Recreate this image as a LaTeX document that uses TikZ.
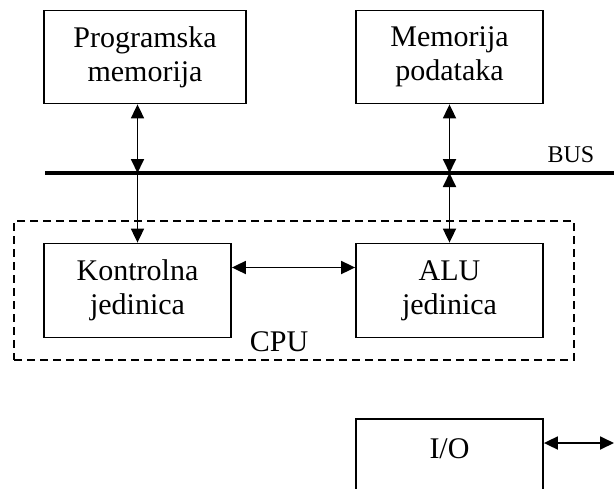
\documentclass[tikz,border=0pt]{standalone}
\usepackage{fontspec}
\setmainfont{Liberation Serif}
\usetikzlibrary{arrows.meta}
\tikzset{
  unit box/.style={draw, line width=1.8pt, align=center, inner sep=0pt},
  cpu frame/.style={draw, dash pattern=on 8pt off 5pt, line width=1.6pt, inner sep=0pt},
  link/.style={line width=1.8pt, -{Triangle[length=14pt,width=13pt]}},
  dlink/.style={line width=1.8pt, {Triangle[length=14pt,width=13pt]}-{Triangle[length=14pt,width=13pt]}},
  bus line/.style={line width=4.5pt},
}

\begin{document}
\begin{tikzpicture}[x=1pt, y=-1pt, every node/.style={font=\fontsize{30pt}{34pt}\selectfont}]
  \clip (0,0) rectangle (614,488);
  \node[cpu frame, minimum width=560pt, minimum height=139pt] (cpu) at (294,290.5) {};
  \node[unit box, minimum width=202pt, minimum height=93pt] (progmem) at (145,57) {Programska\\memorija};
  \node[unit box, minimum width=187pt, minimum height=93pt] (datamem) at (449.5,57) {Memorija\\podataka};
  \node[unit box, minimum width=187pt, minimum height=94pt] (ctrl) at (137.5,290.5) {Kontrolna\\jedinica};
  \node[unit box, minimum width=187pt, minimum height=94pt] (alu) at (449.5,290.5) {ALU\\jedinica};
  \node[unit box, minimum width=187pt, minimum height=94pt] (io) at (449.5,466) {I/O\\\mbox{}};
  \node (cpulabel) at (279,342) {CPU};
  \node[font=\fontsize{24pt}{28pt}\selectfont] (buslabel) at (571,155) {BUS};
  % bus
  \coordinate (busL) at (45,173);  \coordinate (busR) at (614,173);
  \draw[bus line] (busL) -- (busR);
  \coordinate (tapL) at (ctrl.north |- busL);
  \coordinate (tapR) at (alu.north |- busL);
  \coordinate (ioend) at (614,443);
  \draw[dlink] (progmem.south -| tapL) -- (tapL);
  \draw[link]  (tapL) -- (ctrl.north);
  \draw[dlink] (datamem.south -| tapR) -- (tapR);
  \draw[dlink] (tapR) -- (alu.north);
  \draw[dlink] ([yshift=23pt]ctrl.east) -- ([yshift=23pt]alu.west);
  \draw[dlink] ([yshift=23pt]io.east) -- (ioend);
\end{tikzpicture}
\end{document}
